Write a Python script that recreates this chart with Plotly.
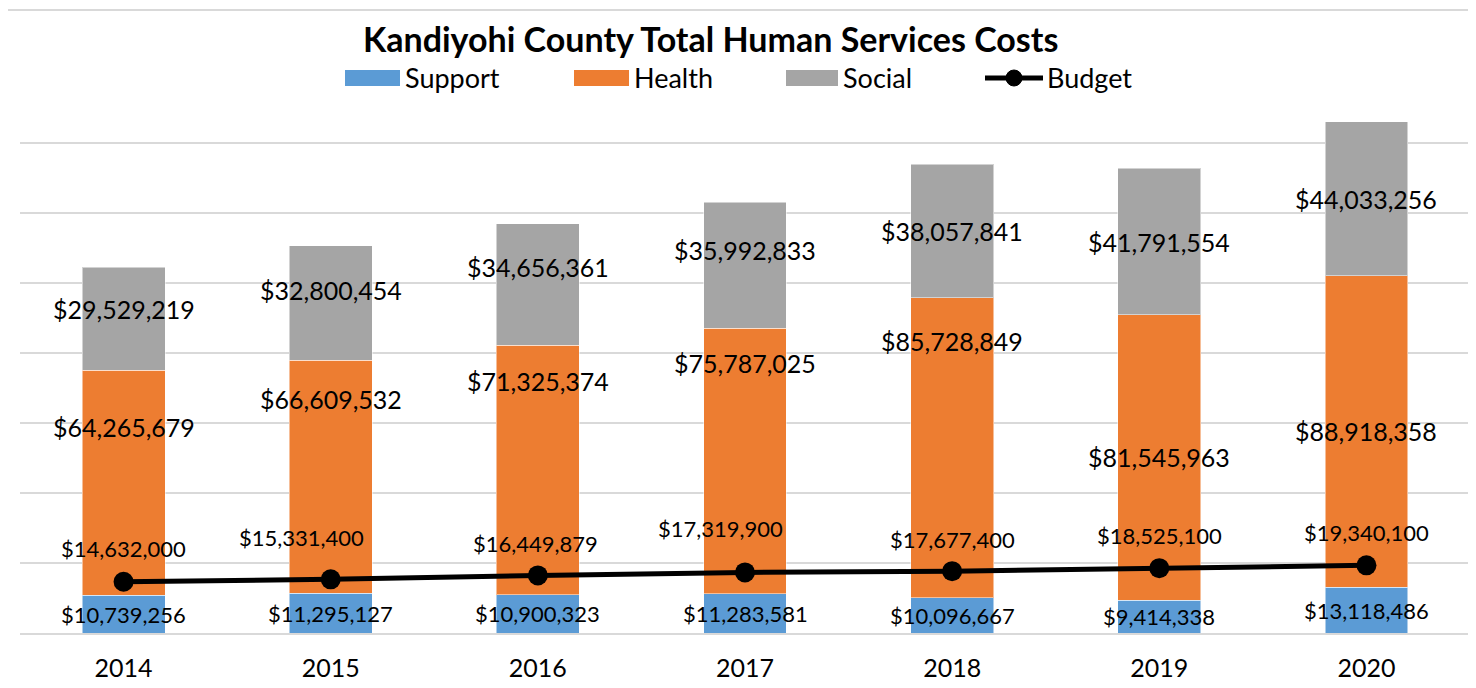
import plotly.graph_objects as go

years = [2014, 2015, 2016, 2017, 2018, 2019, 2020]
support = [10739256, 11295127, 10900323, 11283581, 10096667, 9414338, 13118486]
health = [64265679, 66609532, 71325374, 75787025, 85728849, 81545963, 88918358]
social = [29529219, 32800454, 34656361, 35992833, 38057841, 41791554, 44033256]
budget = [14632000, 15331400, 16449879, 17319900, 17677400, 18525100, 19340100]

# label nudges (px) - the original labels were dragged around by hand
health_dy = [56, 78, 89, 98, 107, 0, 0]
social_dy = [10, 13, 18, 15, 0, 0, 0]
budget_dy = [33, 42, 32, 44, 32, 33, 33]
budget_dx = [0, -29, -2, -25, 0, 0, 0]

BLUE = "#5B9BD5"
ORANGE = "#ED7D31"
GREY = "#A5A5A5"
GRID = "#D9D9D9"
FONT = "Lato"

# page body has an 8px margin, so the figure is drawn 8px in from the corner
OFF = 8
W, H = 1476 - OFF, 688 - OFF
L, R, T, B = 20 - OFF, 6, 73 - OFF, 55
PW, PH = W - L - R, H - T - B


def px(x):
    # x in screen pixels -> paper coords
    return (x - OFF - L) / PW


def py(y):
    return (H - B - (y - OFF)) / PH


def money(v):
    return "${:,}".format(v)


fig = go.Figure()
for name, vals, col in [("Support", support, BLUE), ("Health", health, ORANGE), ("Social", social, GREY)]:
    fig.add_trace(go.Bar(
        x=years, y=vals, name=name, width=0.4,
        marker=dict(color=col, line=dict(color="rgba(255,255,255,0.5)", width=1)),
        hoverinfo="y+name"
    ))

fig.add_trace(go.Scatter(
    x=years, y=budget, name="Budget", mode="lines+markers",
    line=dict(color="black", width=5),
    marker=dict(color="black", size=20)
))

ann = []
for i, yr in enumerate(years):
    s, h, so = support[i], health[i], social[i]
    ann.append(dict(x=yr, y=s / 2, text=money(s), font=dict(size=22, color="black", family=FONT)))
    ann.append(dict(x=yr, y=s + h / 2, text=money(h), yshift=health_dy[i],
                    font=dict(size=25, color="black", family=FONT)))
    ann.append(dict(x=yr, y=s + h + so / 2, text=money(so), yshift=social_dy[i],
                    font=dict(size=25, color="black", family=FONT)))
    ann.append(dict(x=yr, y=budget[i], text=money(budget[i]), yshift=budget_dy[i], xshift=budget_dx[i],
                    font=dict(size=22, color="black", family=FONT)))
for a in ann:
    a.update(xref="x", yref="y", showarrow=False, xanchor="center", yanchor="middle")

# title
ann.append(dict(xref="paper", yref="paper", x=px(710), y=py(38), showarrow=False,
                xanchor="center", yanchor="middle",
                text="<b>Kandiyohi County Total Human Services Costs</b>",
                font=dict(size=34, color="black", family=FONT)))

# hand-built legend so the swatches look like Excel's wide boxes
shapes = []
legend_items = [("Support", BLUE, 345, 400), ("Health", ORANGE, 574, 629), ("Social", GREY, 786, 838)]
for name, col, x0, x1 in legend_items:
    shapes.append(dict(type="rect", xref="paper", yref="paper", x0=px(x0), x1=px(x1),
                       y0=py(86), y1=py(70), fillcolor=col, line=dict(width=0)))
    ann.append(dict(xref="paper", yref="paper", x=px(x1 + 3), y=py(78), xanchor="left", yanchor="middle",
                    showarrow=False, text=name, font=dict(size=27, color="black", family=FONT)))
shapes.append(dict(type="line", xref="paper", yref="paper", x0=px(985), x1=px(1043), y0=py(78), y1=py(78),
                   line=dict(color="black", width=5)))
shapes.append(dict(type="circle", xref="paper", yref="paper", x0=px(1006), x1=px(1022), y0=py(86), y1=py(70),
                   fillcolor="black", line=dict(color="black", width=1)))
ann.append(dict(xref="paper", yref="paper", x=px(1045), y=py(78), xanchor="left", yanchor="middle",
                showarrow=False, text="Budget", font=dict(size=27, color="black", family=FONT)))

# chart border
shapes.append(dict(type="rect", xref="paper", yref="paper", x0=px(4), x1=px(1470), y0=py(700), y1=py(10),
                   line=dict(color=GRID, width=2), layer="below"))

fig.update_layout(
    width=W, height=H,
    margin=dict(l=L, r=R, t=T, b=B, autoexpand=False),
    barmode="stack",
    showlegend=False,
    plot_bgcolor="white", paper_bgcolor="white",
    font=dict(family=FONT, color="black"),
    annotations=ann, shapes=shapes,
    xaxis=dict(range=[2013.5, 2020.5], tickmode="array", tickvals=years, ticktext=[str(y) for y in years],
               showline=True, linecolor=GRID, linewidth=2, ticks="", ticklabelstandoff=12, automargin=False,
               tickfont=dict(size=25, color="black", family=FONT), showgrid=False, zeroline=False),
    yaxis=dict(range=[0, 160e6], dtick=20e6, showticklabels=False, showgrid=True, automargin=False,
               gridcolor=GRID, gridwidth=2, zeroline=False)
)

fig.write_html("out.html")
